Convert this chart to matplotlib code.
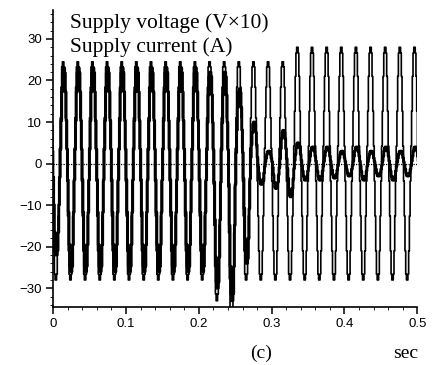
import numpy as np
import matplotlib
matplotlib.use("Agg")
import matplotlib.pyplot as plt
from matplotlib.ticker import MultipleLocator

# one cycle of the stepped (multilevel) waveform, unit amplitude, from upward zero crossing
cycle_shape = [0.15, 0.45, 0.75, 0.95, 1.0, 1.0, 0.95, 0.75, 0.45, 0.15,
               -0.15, -0.45, -0.75, -0.95, -1.0, -1.0, -0.95, -0.75, -0.45, -0.15]
period = 0.0201
first_cross = -0.0114

# per-cycle peaks (cycle -1 .. 24)
v_pos = [24.5, 24.5, 24.5, 24.5, 24.5, 24.5, 24.5, 24.5, 24.5, 24.5, 24.5, 24.5, 24.5,
         24.5, 24.5, 24.5, 24.5, 28, 28, 28, 28, 28, 28, 28, 28, 28]
v_neg = [-28, -28, -28, -28, -28, -28, -28, -28, -28, -28, -28, -33, -37,
         -28, -28, -28, -28, -28, -28, -28, -28, -28, -28, -28, -28, -28]
i_pos = [20, 23, 23, 23, 23, 23, 23, 23, 23, 23, 23, 22, 22,
         18, 10, 3, 8, 5, 4, 4, 3, 4, 3, 4, 3, 4]
i_neg = [-22, -26, -26, -26, -26, -26, -26, -26, -26, -26, -26, -30, -33,
         -24, -5, -6, -8, -4, -4, -3.5, -3, -4, -3, -4, -3, -4]
i_lag = 1  # samples

n = len(cycle_shape)
shape = np.array(cycle_shape)
t = first_cross + np.arange(len(v_pos) * n) * period / n
volt = np.concatenate([np.where(shape > 0, shape * p, -shape * q) for p, q in zip(v_pos, v_neg)])
curr = np.concatenate([np.where(shape > 0, shape * p, -shape * q) for p, q in zip(i_pos, i_neg)])
curr = np.roll(curr, i_lag)

fig = plt.figure(figsize=(4.32, 3.65), dpi=100)
ax = fig.add_axes([0.123, 0.159, 0.843, 0.814])

ax.plot(t, volt, color='black', lw=1.2, drawstyle='steps-post')
ax.plot(t, curr, color='black', lw=2.1, drawstyle='steps-post')
ax.axhline(0, color='black', lw=0.9, ls=(0, (1, 1)))

ax.set_xlim(0, 0.5)
ax.set_ylim(-34.5, 37)
for s in ['top', 'right']:
    ax.spines[s].set_visible(False)
ax.spines['left'].set_linewidth(1.2)
ax.spines['bottom'].set_linewidth(1.2)

ax.set_xticks([0, 0.1, 0.2, 0.3, 0.4, 0.5])
ax.set_xticklabels(['0', '0.1', '0.2', '0.3', '0.4', '0.5'])
ax.set_yticks([-30, -20, -10, 0, 10, 20, 30])
ax.xaxis.set_minor_locator(MultipleLocator(0.02))
ax.yaxis.set_minor_locator(MultipleLocator(2))
ax.tick_params(which='major', direction='out', length=5, width=1.1, labelsize=9.5, pad=3)
ax.tick_params(which='minor', direction='out', length=2, width=0.6)
for lab in ax.get_xticklabels() + ax.get_yticklabels():
    lab.set_fontfamily('Liberation Sans')

ax.text(0.045, 0.988, 'Supply voltage (V\u00d710)', transform=ax.transAxes,
        family='Liberation Serif', fontsize=15.5, va='top', ha='left')
ax.text(0.045, 0.908, 'Supply current (A)', transform=ax.transAxes,
        family='Liberation Serif', fontsize=15.5, va='top', ha='left')

fig.text(0.605, 0.02, '(c)', family='Liberation Serif', fontsize=14, ha='center')
fig.text(0.94, 0.02, 'sec', family='Liberation Serif', fontsize=14, ha='center')

fig.savefig('out.png', dpi=100)
